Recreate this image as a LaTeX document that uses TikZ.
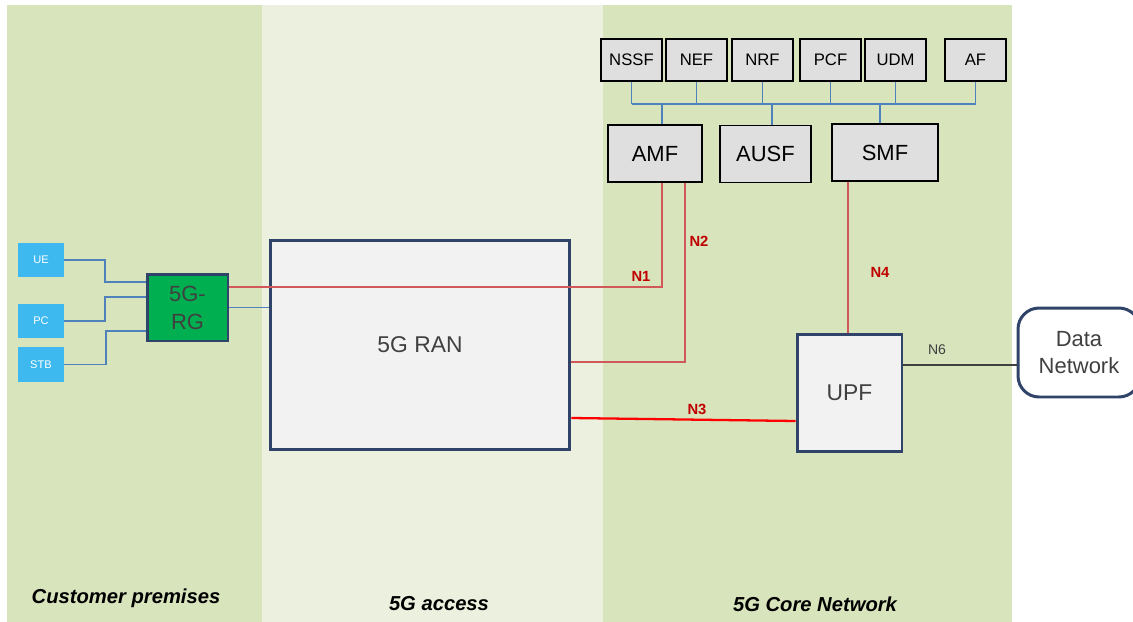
\documentclass[tikz,border=0pt]{standalone}
\usepackage{fontspec}
\setmainfont{Liberation Sans}
\usetikzlibrary{positioning}
\usepackage{xcolor}
\definecolor{zonegreen}{HTML}{D8E4BC}
\definecolor{zonepale}{HTML}{EBF1DE}
\definecolor{navy}{HTML}{2F4468}
\definecolor{busblue}{HTML}{4F81BD}
\definecolor{devblue}{HTML}{3DB9F0}
\definecolor{rggreen}{HTML}{00B050}
\definecolor{ifred}{HTML}{D05858}
\definecolor{labred}{HTML}{C00000}

\begin{document}
\begin{tikzpicture}[x=0.02cm,y=-0.02cm,%
		   zone/.style={inner sep=0pt,outer sep=0pt},
		   zonelabel/.style={font=\bfseries\itshape\fontsize{11.5}{13}\selectfont},
		   nf/.style={draw=black,fill=gray!25,thick,minimum width=1.22cm,minimum height=0.84cm,inner sep=0pt,font=\fontsize{9.5}{11}\selectfont},
		   cp/.style={draw=black,fill=gray!25,thick,minimum height=1.14cm,inner sep=0pt,font=\fontsize{12.5}{14}\selectfont},
		   bigbox/.style={draw=navy,fill=gray!10,line width=1.7pt,inner sep=0pt,font=\fontsize{13}{15}\selectfont,text=black!75},
		   device/.style={fill=devblue,text=white,minimum width=0.92cm,minimum height=0.68cm,inner sep=0pt,font=\fontsize{6.3}{7}\selectfont},
		   bus/.style={busblue,line width=1.1pt},
		   ctrl/.style={ifred,line width=0.6pt},
		   user/.style={red,line width=1.3pt},
		   iflabel/.style={text=labred,font=\bfseries\fontsize{8.4}{10}\selectfont}]

	\useasboundingbox (0,0) rectangle (1133,622);

	% zones
	\fill[zonegreen] (7,5) rectangle (262,622);
	\fill[zonepale] (262,5) rectangle (603,622);
	\fill[zonegreen] (603,5) rectangle (1012,622);
	\node[zonelabel] (cpz) at (126,598) {Customer premises};
	\node[zonelabel] (acz) at (439,604) {5G access};
	\node[zonelabel] (cnz) at (815,604) {5G Core Network};

	% network functions
	\foreach \nfname/\nfx in {NSSF/631.5,NEF/696.5,NRF/762.5,PCF/830.5,UDM/895.5,AF/975.5}
	   { \node[nf] (\nfname) at (\nfx,60) {\nfname};
	     \draw[bus] (\nfname.south) -- (\nfname.south |- 0,104);
	   }
	\draw[bus] (NSSF.south |- 0,104) -- (AF.south |- 0,104);

	\node[cp,minimum width=1.88cm] (amf) at (655,153.5) {AMF};
	\node[cp,minimum width=1.82cm] (ausf) at (765.5,154) {AUSF};
	\node[cp,minimum width=2.12cm] (smf) at (885,152.5) {SMF};
	\draw[bus] (662,104) -- (amf.north -| 662,0);
	\draw[bus] (772,104) -- (ausf.north -| 772,0);
	\draw[bus] (880,104) -- (smf.north -| 880,0);

	% access and user plane
	\node[bigbox,minimum width=6cm,minimum height=4.2cm] (ran) at (420,345) {5G RAN};
	\node[bigbox,minimum width=2.1cm,minimum height=2.36cm] (upf) at (849.5,393) {UPF};
	\node[bigbox,fill=white,rounded corners=12pt,minimum width=2.44cm,minimum height=1.78cm,align=center,font=\fontsize{12.5}{15}\selectfont] (dn) at (1079,352.5) {Data\\Network};

	% customer premises
	\node[bigbox,fill=rggreen,minimum width=1.62cm,minimum height=1.34cm,align=center,font=\fontsize{12.5}{16}\selectfont] (rg) at (187.5,307.5) {5G-\\RG};
	\node[device] (ue) at (41,260) {UE};
	\node[device] (pc) at (41,321) {PC};
	\node[device,minimum height=0.7cm] (stb) at (41,364.5) {STB};
	\draw[bus] (ue.east) -- (105,260) |- (rg.west |- 0,282);
	\draw[bus] (pc.east) -- (105,321) |- (rg.west |- 0,297);
	\draw[bus] (stb.east) -- (106,364.5) |- (rg.west |- 0,331);
	\draw[bus] (rg.east) -- (ran.west |- rg.east);

	% interfaces
	\draw[ctrl] (rg.east |- 0,287) -| (amf.south -| 662,0);
	\draw[ctrl] (ran.east |- 0,362) -| (amf.south -| 685,0);
	\draw[user] (ran.east |- 0,418) -- (upf.west |- 0,421);
	\draw[ctrl] (smf.south -| 848,0) -- (upf.north -| 848,0);
	\draw[black!75,line width=1pt] (upf.east |- 0,365) -- (dn.west |- 0,365);
	\node[iflabel] (n1) at (641,276) {N1};
	\node[iflabel] (n2) at (699,241) {N2};
	\node[iflabel] (n3) at (697,409) {N3};
	\node[iflabel] (n4) at (880,272) {N4};
	\node[text=black!75,font=\fontsize{8}{10}\selectfont] (n6) at (937,350) {N6};
\end{tikzpicture}
\end{document}
